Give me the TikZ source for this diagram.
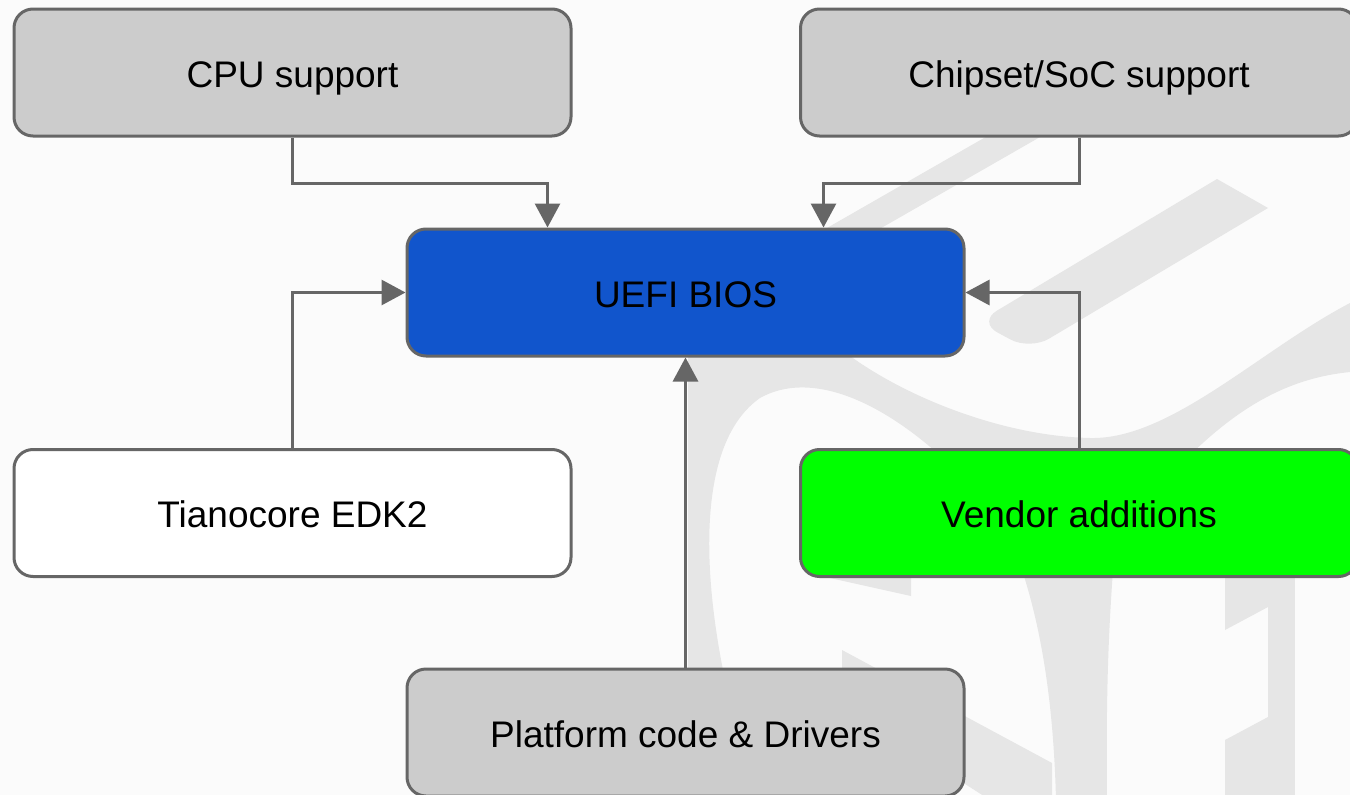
\documentclass[tikz,border=0pt]{standalone}
\usepackage{fontspec}
\setmainfont{Liberation Sans}
\usetikzlibrary{arrows.meta,calc}
\definecolor{bgc}{HTML}{FBFBFB}
\definecolor{wmc}{HTML}{E6E6E6}
\definecolor{edgec}{HTML}{666666}
\definecolor{grayfill}{HTML}{CCCCCC}
\definecolor{bluefill}{HTML}{1155CC}
\definecolor{greenfill}{HTML}{00FF00}
\tikzset{
  box/.style={draw=edgec, line width=3pt, rounded corners=19pt, minimum width=557pt, minimum height=127pt, inner sep=0pt, text height=29.6pt, text depth=0pt, font=\fontsize{37}{44}\selectfont, text=black},
  conn/.style={draw=edgec, line width=3pt, -{Triangle[length=24pt,width=25pt]}},
  wm/.style={fill=wmc, draw=none}
}
\begin{document}
\begin{tikzpicture}[x=1pt,y=-1pt]
\useasboundingbox (0,0) rectangle (1350,795);
\fill[bgc] (0,0) rectangle (1350,795);
% watermark
\begin{scope}
\clip (0,0) rectangle (1350,795);
\draw[wmc, line width=27pt] (800,259) -- (1060,110);
\fill[wm] (1217,179) -- (1268,208) [rounded corners=22pt] -- (1030,350) -- (978,322) [sharp corners] -- cycle;
\fill[wm] (688,340) -- (688,680) -- (725,680) .. controls (700,560) and (700,440) .. (760,398)
  .. controls (810,370) and (880,400) .. (945,460) -- (1185,460)
  .. controls (1240,405) and (1290,378) .. (1350,372) -- (1350,303)
  .. controls (1260,350) and (1170,440) .. (1090,438) .. controls (1000,436) and (900,395) .. (842,350) -- cycle;
\fill[wm] (1022,570) .. controls (1045,640) and (1054,720) .. (1056,800) -- (1107,800) .. controls (1106,700) and (1108,640) .. (1113,570) -- cycle;
\fill[wm] (1268,570) rectangle (1295,800);
\fill[wm] (1225,570) -- (1268,570) -- (1268,607) -- (1225,630) -- cycle;
\fill[wm] (1225,740) -- (1268,717) -- (1268,800) -- (1225,800) -- cycle;
\fill[wm] (842,650) -- (1052,763) -- (1052,800) -- (990,800) -- (842,705) -- cycle;
\fill[wm] (830,578) -- (911,578) -- (911,596) -- cycle;
\end{scope}
% nodes
\node[box, fill=grayfill] (cpu) at (292.5,72.5) {CPU support};
\node[box, fill=grayfill] (chip) at (1079,72.5) {Chipset/SoC support};
\node[box, fill=bluefill] (uefi) at (685.5,292.5) {UEFI BIOS};
\node[box, fill=white] (tiano) at (292.5,513) {Tianocore EDK2};
\node[box, fill=greenfill] (vendor) at (1079,513) {Vendor additions};
\node[box, fill=grayfill] (plat) at (685.5,732.5) {Platform code \& Drivers};
% connectors
\draw[conn] (cpu.south) -- ++(0,46) -| ([xshift=142pt]uefi.north west);
\draw[conn] (chip.south) -- ++(0,46) -| ([xshift=-142pt]uefi.north east);
\draw[conn] (tiano.north) |- (uefi.west);
\draw[conn] (vendor.north) |- (uefi.east);
\draw[conn] (plat.north) -- (uefi.south);
\end{tikzpicture}
\end{document}
